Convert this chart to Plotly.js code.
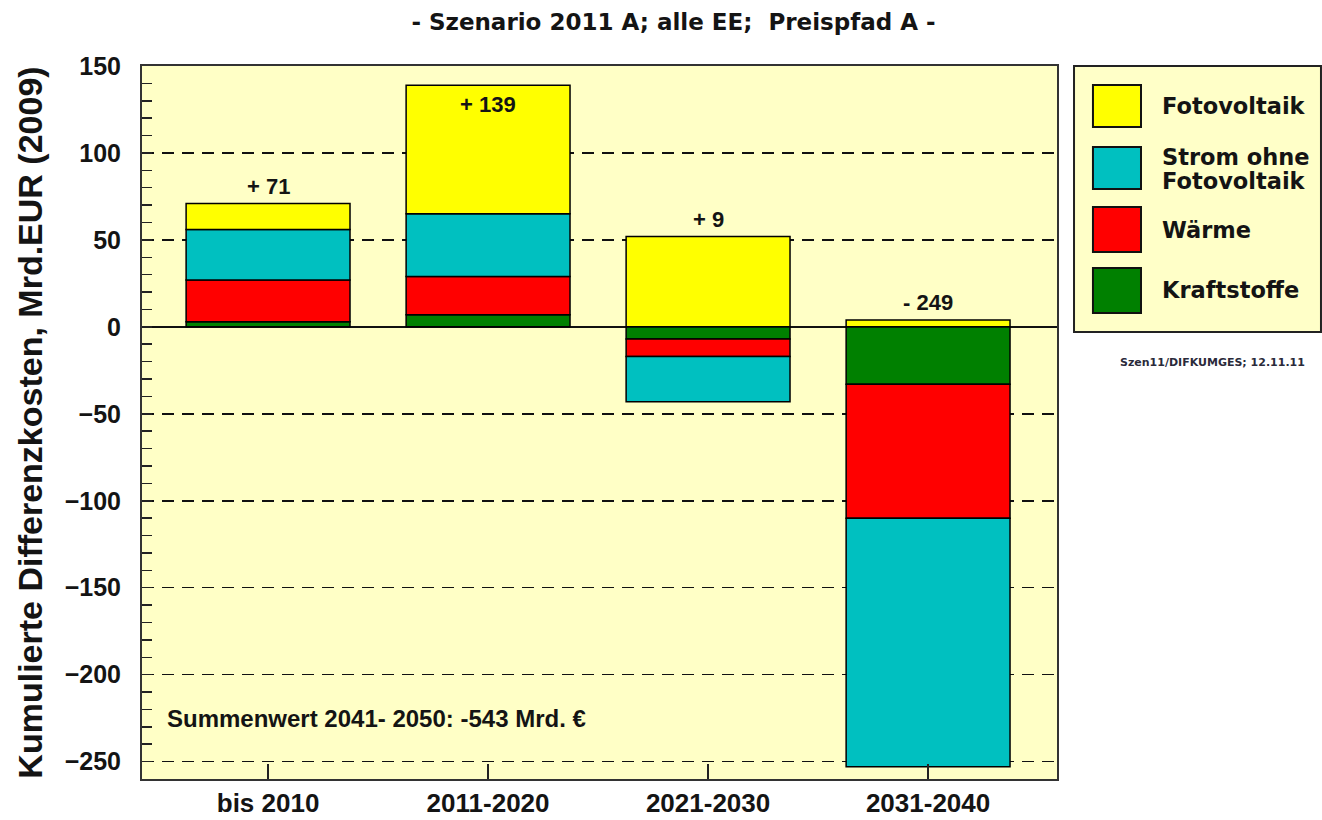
<!DOCTYPE html>
<html>
<head>
<meta charset="utf-8">
<script src="https://cdn.plot.ly/plotly-3.0.1.min.js"></script>
<style>
  html, body { margin: 0; padding: 0; background: #ffffff; }
  #chart { width: 1322px; height: 820px; }
</style>
</head>
<body>
<div id="chart"></div>
<script>
// ---- data ----
const categories = ['bis 2010', '2011-2020', '2021-2030', '2031-2040'];
const kraftstoffe = [3, 7, -7, -33];
const waerme = [24, 22, -10, -77];
const stromOhneFoto = [29, 36, -26, -143];
const fotovoltaik = [15, 74, 52, 4];
const seriesNames = ['Fotovoltaik', 'Strom ohne|Fotovoltaik', 'Wärme', 'Kraftstoffe'];
const titleText = '- Szenario 2011 A; alle EE;\u00a0 Preispfad A -';
const yTitleText = 'Kumulierte Differenzkosten, Mrd.EUR (2009)';
const noteText = 'Summenwert 2041- 2050: -543 Mrd. \u20ac';
const sourceText = 'Szen11/DIFKUMGES; 12.11.11';

// ---- styles ----
const colors = { foto: '#FFFF00', strom: '#00C0C0', waerme: '#FF0000', kraft: '#008000' };
const LIB = 'Liberation Sans, Arial, sans-serif';
const DJV = 'DejaVu Sans, Verdana, sans-serif';
const txtColor = '#141414';
const barLine = { color: '#000000', width: 1.5 };

function barTrace(name, vals, color) {
  return {
    type: 'bar', name: name, x: categories, y: vals,
    marker: { color: color, line: barLine },
    width: 0.745, showlegend: false, hoverinfo: 'x+y+name'
  };
}

const traces = [
  barTrace('Kraftstoffe', kraftstoffe, colors.kraft),
  barTrace('Wärme', waerme, colors.waerme),
  barTrace('Strom ohne Fotovoltaik', stromOhneFoto, colors.strom),
  barTrace('Fotovoltaik', fotovoltaik, colors.foto)
];

const yMax = 150, yMin = -260;
const annotations = [];
const shapes = [];

// totals above bars
categories.forEach((c, i) => {
  const parts = [kraftstoffe[i], waerme[i], stromOhneFoto[i], fotovoltaik[i]];
  const total = parts.reduce((a, b) => a + b, 0);
  const posTop = parts.filter(v => v > 0).reduce((a, b) => a + b, 0);
  const inside = posTop + 20 > yMax;
  annotations.push({
    x: c, y: posTop, xref: 'x', yref: 'y',
    text: (total >= 0 ? '+ ' : '- ') + Math.abs(total),
    showarrow: false, yanchor: 'middle', yshift: inside ? -19 : 17,
    font: { family: LIB, size: 22, color: txtColor, weight: 'bold' }
  });
});

// note
annotations.push({
  x: 0.025, y: -225, xref: 'paper', yref: 'y', xanchor: 'left', yanchor: 'middle',
  text: noteText, showarrow: false,
  font: { family: LIB, size: 24, color: txtColor, weight: 'bold' }
});

// custom legend (paper coordinates: plot spans x 142..1057 px, y 66..779 px)
const legLeft = 1.0186, legRight = 1.2885, legTop = 1.0, legBottom = 0.6269;
shapes.push({ type: 'rect', xref: 'paper', yref: 'paper', x0: legLeft, x1: legRight, y0: legBottom, y1: legTop,
  fillcolor: '#FFFFC8', line: { color: '#222222', width: 2 }, layer: 'below' });
const swatchColors = [colors.foto, colors.strom, colors.waerme, colors.kraft];
const swatchY = [[0.9144, 0.9734], [0.8275, 0.8864], [0.7391, 0.8022], [0.6536, 0.7167]];
seriesNames.forEach((n, i) => {
  shapes.push({ type: 'rect', xref: 'paper', yref: 'paper', x0: 1.0393, x1: 1.0918,
    y0: swatchY[i][0], y1: swatchY[i][1], fillcolor: swatchColors[i], line: { color: '#111111', width: 2 } });
  const lines = n.split('|');
  const yc = (swatchY[i][0] + swatchY[i][1]) / 2;
  const lh = 24 / 713;
  lines.forEach((ln, k) => {
    const off = (lines.length - 1) / 2 - k;
    annotations.push({
      x: 1.1126, y: yc + off * lh - (lines.length > 1 ? 0.002 : 0), xref: 'paper', yref: 'paper',
      xanchor: 'left', yanchor: 'middle', text: ln, showarrow: false,
      font: { family: DJV, size: 22.5, color: txtColor, weight: 'bold' }
    });
  });
});
annotations.push({
  x: (1212 - 142) / 915, y: (779 - 362) / 713, xref: 'paper', yref: 'paper', text: sourceText, showarrow: false,
  xanchor: 'center', yanchor: 'middle',
  font: { family: DJV, size: 11, color: '#2a2a3a', weight: 'bold' }
});

const layout = {
  width: 1322, height: 820,
  margin: { l: 142, r: 265, t: 66, b: 41 },
  paper_bgcolor: '#ffffff', plot_bgcolor: '#FFFFC6',
  barmode: 'relative',
  title: {
    text: titleText, xref: 'container', x: 673.5 / 1322, xanchor: 'center',
    yref: 'container', y: 1 - 22 / 820, yanchor: 'middle',
    font: { family: DJV, size: 23, color: txtColor, weight: 'bold' }
  },
  xaxis: {
    type: 'category', range: [-0.573, 3.586],
    showline: true, mirror: true, linecolor: '#333333', linewidth: 2,
    ticks: 'inside', ticklen: 15, tickwidth: 1.5, tickcolor: '#222222',
    showgrid: false, zeroline: false,
    tickfont: { family: LIB, size: 26, color: txtColor, weight: 'bold' }
  },
  yaxis: {
    range: [yMin, yMax], tick0: 0, dtick: 50,
    showline: true, mirror: true, linecolor: '#333333', linewidth: 2,
    ticks: 'inside', ticklen: 10, tickwidth: 1.5, tickcolor: '#222222',
    minor: { dtick: 10, ticks: 'inside', ticklen: 10, tickwidth: 1.5, tickcolor: '#222222', showgrid: false },
    showgrid: true, gridcolor: '#111111', gridwidth: 1.5, griddash: '12px,8px',
    zeroline: true, zerolinecolor: '#111111', zerolinewidth: 1.5,
    ticklabelstandoff: 14,
    tickfont: { family: LIB, size: 25, color: txtColor, weight: 'bold' },
    title: { text: yTitleText, standoff: 12,
      font: { family: LIB, size: 34, color: txtColor, weight: 'bold' } }
  },
  annotations: annotations,
  shapes: shapes
};

Plotly.newPlot('chart', traces, layout, { displayModeBar: false, staticPlot: true });
</script>
</body>
</html>
